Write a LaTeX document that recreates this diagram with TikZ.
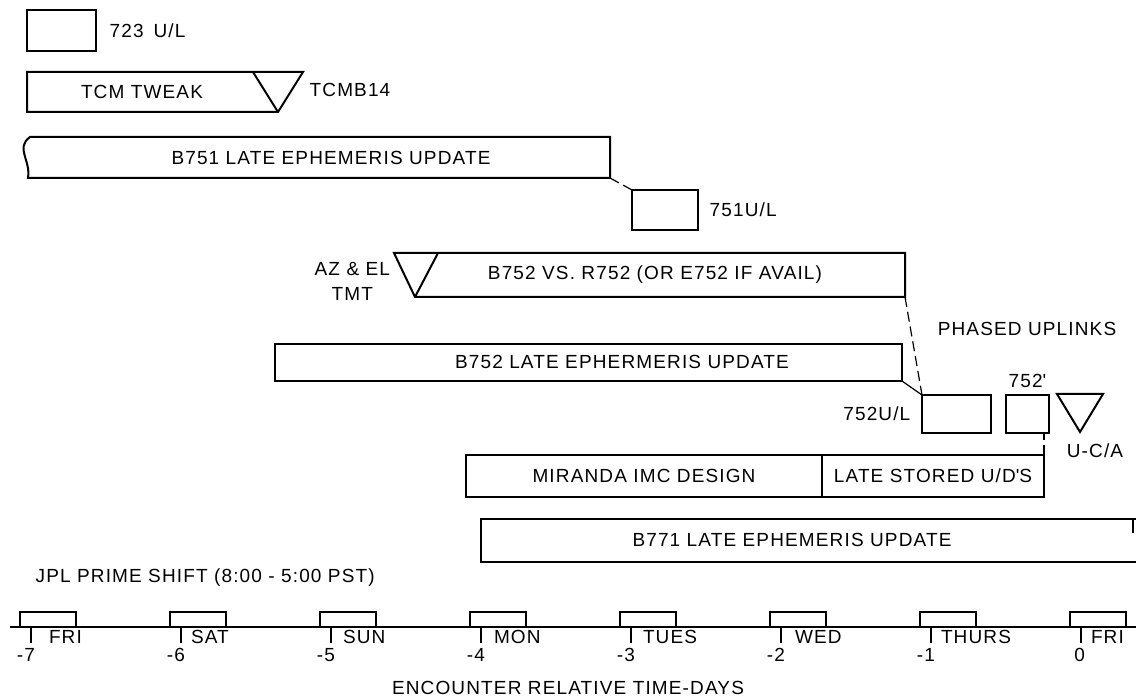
\documentclass[tikz,border=0pt]{standalone}
\usepackage{fontspec}
\setmainfont[LetterSpace=6]{Liberation Sans}
\usetikzlibrary{positioning}

\begin{document}
\begin{tikzpicture}[x=0.5pt, y=-0.5pt, line width=1pt,
    every node/.style={font=\fontsize{9.5}{12.5}\selectfont},
    ulbox/.style={draw, anchor=north west, inner sep=0pt, outer sep=0pt},
    dashlink/.style={dash pattern=on 5pt off 2.5pt, line width=0.6pt},
    tl/.style={line width=0.75pt}]
\useasboundingbox (0,0) rectangle (1136,700);

% 1. 723 uplink
\node[ulbox, minimum width=34.5pt, minimum height=20.5pt] (u723) at (27,10) {};
\node[right=3pt of u723] (l723) {723\hspace{5pt}U/L};

% 2. TCM tweak bar with its triangle
\draw (27,112) -- (27,72) -- (303,72) -- (278,112) -- cycle;
\draw (253,72) -- (278,112);
\node (tcm) at (142,92) {TCM TWEAK};
\node[anchor=west] (tcmb) at (302,90) {TCMB14};

% 3. B751 bar (torn left edge) and 751 uplink
\draw (28,178) .. controls (31,160) and (15,148) .. (30,137) -- (610,137) -- (610,178) -- cycle;
\coordinate (b751se) at (610,178);
\node (b751) at (331,158) {B751 LATE EPHEMERIS UPDATE};
\node[ulbox, minimum width=33pt, minimum height=20pt] (u751) at (632,190) {};
\node[right=2pt of u751] (l751) {751U/L};
\draw[dashlink] (b751se) -- (u751.north west);

% 4. B752 vs R752 bar with TMT triangle
\draw (415,297) -- (394,253) -- (905,253) -- (905,297) -- cycle;
\draw (438,253) -- (415,297);
\coordinate (b752vsse) at (905,297);
\node (b752vs) at (655,275) {B752 VS. R752 (OR E752 IF AVAIL)};
\node[anchor=east, align=center, inner sep=1pt] (azel) at (393,281) {AZ \& EL\\TMT};

% 5. B752 bar and phased uplinks
\node (phased) at (1027,329) {PHASED UPLINKS};
\draw (275,344) rectangle (902,381);
\coordinate (b752se) at (902,381);
\node (b752) at (622,362) {B752 LATE EPHERMERIS UPDATE};
\node[ulbox, minimum width=34.5pt, minimum height=19pt] (u752) at (922,395) {};
\node[left=2pt of u752] (l752) {752U/L};
\node[ulbox, minimum width=21.5pt, minimum height=19pt] (u752p) at (1006,395) {};
\node[above=0pt of u752p] (l752p) {752\textquotesingle};
\draw (1057,394) -- (1103,394) -- (1080,432) -- cycle;
\node (uca) at (1095,451) {U-C/A};
\draw[dashlink] (b752vsse) -- (u752.north west);
\draw[line width=0.6pt] (b752se) -- (u752.north west);

% 6. Miranda design and late stored U/D
\node[ulbox, minimum width=178pt, minimum height=21pt] (mir) at (466,455) {MIRANDA IMC DESIGN};
\node[ulbox, minimum width=111pt, minimum height=21pt, right=0pt of mir] (lsd) {LATE STORED U/D\textquotesingle S};
\draw[dashlink] (lsd.north east) -- (lsd.north east |- u752p.south);

% 7. B771 bar (runs off the right side)
\draw (1136,519) -- (481,519) -- (481,562) -- (1136,562);
\draw (1133,519) -- (1133,533);
\node (b771) at (792,540) {B771 LATE EPHEMERIS UPDATE};

% 8. time line
\node[anchor=west] (jpl) at (28,578) {JPL PRIME SHIFT (8:00 - 5:00 PST)};
\draw[tl] (10,627) -- (1136,627);
\foreach \d/\day/\off [count=\i from 0] in {-7/FRI/17, -6/SAT/9, -5/SUN/11, -4/MON/12,
    -3/TUES/11, -2/WED/13, -1/THURS/9, 0/FRI/9} {
  \pgfmathsetmacro{\xd}{31+150*\i}
  \draw[tl] (\xd-11,627) -- (\xd-11,612) -- (\xd+45,612) -- (\xd+45,627);
  \draw[tl] (\xd,627) -- (\xd,643);
  \node[anchor=west, inner sep=0pt] (day\i) at (\xd+\off,637) {\day};
  \node[anchor=north east, inner sep=0pt] (num\i) at (\xd+5,647) {\d};
}
\node (enc) at (568,688) {ENCOUNTER RELATIVE TIME-DAYS};

\end{tikzpicture}
\end{document}
